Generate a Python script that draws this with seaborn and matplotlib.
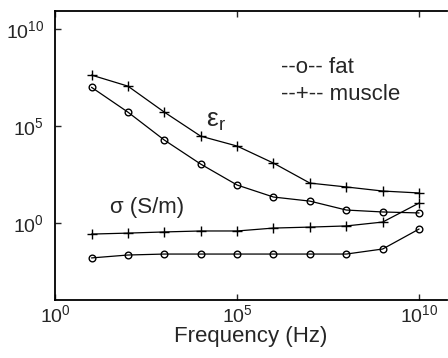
import numpy as np
import pandas as pd
import matplotlib
matplotlib.use("Agg")
import matplotlib.pyplot as plt
import seaborn as sns

# frequency points (Hz)
frequencia = [1e1, 1e2, 1e3, 1e4, 1e5, 1e6, 1e7, 1e8, 1e9, 1e10]

# log10 values
eps_fat_log = [7.0, 5.72, 4.28, 3.04, 1.96, 1.34, 1.13, 0.67, 0.57, 0.52]
eps_muscle_log = [7.63, 7.06, 5.72, 4.48, 3.97, 3.09, 2.06, 1.86, 1.65, 1.55]
sigma_fat_log = [-1.8, -1.65, -1.6, -1.6, -1.6, -1.6, -1.6, -1.6, -1.34, -0.31]
sigma_muscle_log = [-0.57, -0.52, -0.46, -0.41, -0.41, -0.26, -0.21, -0.15, 0.05, 1.03]

ticks = [1e0, 1e5, 1e10]
tick_labels = [r"$10^{0}$", r"$10^{5}$", r"$10^{10}$"]

series = {
    "eps_fat": (eps_fat_log, "o"),
    "eps_muscle": (eps_muscle_log, "+"),
    "sigma_fat": (sigma_fat_log, "o"),
    "sigma_muscle": (sigma_muscle_log, "+"),
}

sns.set_style("ticks")
plt.rcParams["font.family"] = ["Liberation Sans", "DejaVu Sans"]
plt.rcParams["mathtext.fontset"] = "custom"
plt.rcParams["mathtext.rm"] = "Liberation Sans"
plt.rcParams["mathtext.it"] = "Liberation Sans"
plt.rcParams["mathtext.bf"] = "Liberation Sans:bold"

fig = plt.figure(figsize=(4.48, 3.58), dpi=100)
ax = fig.add_axes([0.123, 0.162, 0.875, 0.807])

for nome, (valores, marcador) in series.items():
    df = pd.DataFrame({"f": frequencia, "v": 10 ** np.array(valores)})
    sns.lineplot(data=df, x="f", y="v", ax=ax, color="black", linewidth=0.9,
                 marker=marcador, markersize=4.8 if marcador == "o" else 6.5,
                 markerfacecolor="none", markeredgecolor="black",
                 markeredgewidth=1.0)

ax.set_xscale("log")
ax.set_yscale("log")
ax.set_xlim(1e0, 10 ** 10.77)
ax.set_ylim(10 ** -3.97, 10 ** 10.93)
ax.set_xticks(ticks)
ax.set_yticks(ticks)
ax.set_xticklabels(tick_labels)
ax.set_yticklabels(tick_labels)
ax.minorticks_off()
ax.tick_params(direction="in", length=4, width=1.0, labelsize=14,
               top=True, right=False)
ax.tick_params(axis="x", pad=3)
ax.tick_params(axis="y", pad=8)
ax.spines["right"].set_visible(False)
for s in ["left", "top", "bottom"]:
    ax.spines[s].set_linewidth(1.3)
    ax.spines[s].set_color("black")

ax.set_xlabel("Frequency (Hz)", fontsize=16, labelpad=0)
ax.set_ylabel("")

ax.text(10 ** 4.15, 10 ** 4.95, "ε$_\\mathrm{r}$", fontsize=19)
ax.text(10 ** 1.5, 10 ** 0.5, "σ (S/m)", fontsize=16)
ax.text(10 ** 6.2, 10 ** 7.75, "--o-- fat", fontsize=16)
ax.text(10 ** 6.2, 10 ** 6.35, "--+-- muscle", fontsize=16)

fig.savefig("out.png", dpi=100)
